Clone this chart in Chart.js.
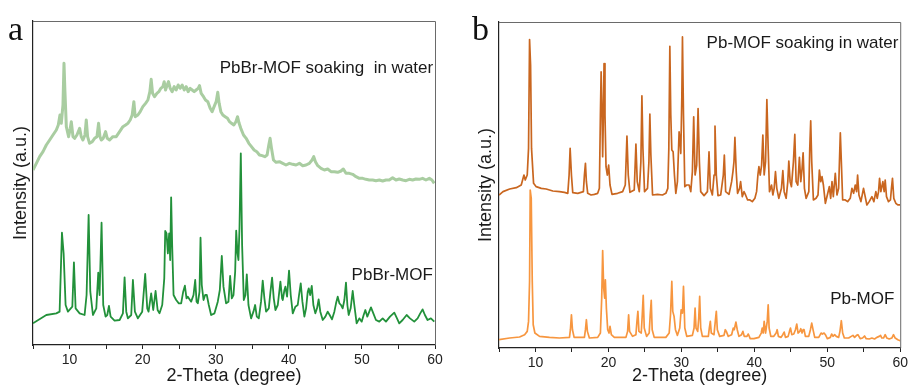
<!DOCTYPE html>
<html>
<head>
<meta charset="utf-8">
<script src="https://cdn.jsdelivr.net/npm/chart.js@4/dist/chart.umd.min.js"></script>
<style>
  html, body { margin: 0; padding: 0; background: #ffffff; }
  #wrap { position: relative; width: 911px; height: 388px; overflow: hidden; }
  canvas { position: absolute; top: 0; }
  #panelA { left: 0; }
  #panelB { left: 460px; }
</style>
</head>
<body>
<div id="wrap">
  <canvas id="panelA" width="455" height="388"></canvas>
  <canvas id="panelB" width="451" height="388"></canvas>
</div>
<script>
// XRD patterns, [2-theta (degree), intensity (a.u.)]
const pbbrWater = [
  [5.0,525],[5.46,545],[5.91,565],[6.37,580],[6.82,600],[7.28,615],[7.73,630],[8.19,645],[8.46,660],[8.69,690],
  [8.87,665],[9.1,720],[9.24,845],[9.37,760],[9.56,655],[9.87,625],[10.1,650],[10.24,670],[10.47,625],[10.69,620],
  [11.01,630],[11.38,650],[11.6,625],[11.83,615],[12.11,630],[12.29,675],[12.47,625],[12.74,605],[13.11,610],[13.43,620],
  [13.75,625],[13.97,665],[14.16,625],[14.34,615],[14.61,620],[14.93,640],[15.16,620],[15.48,615],[15.93,625],[16.39,625],
  [16.85,640],[17.3,655],[17.67,660],[17.98,665],[18.3,675],[18.57,690],[18.8,730],[18.98,685],[19.35,690],[19.67,700],
  [20.03,715],[20.4,725],[20.72,735],[20.99,760],[21.17,797],[21.36,755],[21.63,745],[21.95,755],[22.22,760],[22.49,770],
  [22.77,775],[22.95,790],[23.13,765],[23.36,780],[23.54,790],[23.77,770],[24.04,760],[24.32,775],[24.59,765],[24.86,780],
  [25.14,770],[25.41,780],[25.69,765],[25.96,775],[26.23,760],[26.5,770],[26.78,765],[27.05,760],[27.32,765],[27.6,770],
  [27.78,778],[28.01,755],[28.33,745],[28.6,735],[28.92,730],[29.24,710],[29.51,700],[29.78,715],[30.06,730],[30.28,758],
  [30.47,725],[30.7,700],[30.97,690],[31.29,685],[31.61,680],[31.89,670],[32.16,665],[32.48,660],[32.76,670],[32.98,685],
  [33.2,665],[33.43,650],[33.8,630],[34.16,620],[34.53,605],[34.89,595],[35.25,585],[35.62,580],[35.98,570],[36.35,568],
  [36.71,565],[37.03,570],[37.26,600],[37.44,620],[37.63,590],[37.9,555],[38.26,548],[38.72,550],[39.17,545],[39.62,540],
  [40.08,545],[40.54,542],[40.99,540],[41.45,545],[41.9,538],[42.36,540],[42.81,545],[43.18,555],[43.41,565],[43.64,550],
  [43.96,538],[44.41,530],[44.86,525],[45.32,528],[45.77,520],[46.23,520],[46.69,518],[47.14,522],[47.46,528],[47.82,515],
  [48.28,515],[48.74,512],[49.19,505],[49.65,500],[50.11,500],[50.56,497],[51.01,495],[51.47,495],[51.92,493],[52.38,495],
  [52.84,492],[53.29,495],[53.74,495],[54.2,502],[54.66,495],[55.11,498],[55.57,495],[56.03,493],[56.48,497],[56.94,495],
  [57.39,498],[57.85,497],[58.3,500],[58.76,495],[59.22,500],[59.58,495],[59.9,485]
];

const pbbrMof = [
  [5.0,65],[6.82,90],[8.19,95],[8.64,100],[8.96,337],[9.19,275],[9.46,120],[9.78,100],[10.38,115],[10.6,248],
  [10.83,110],[11.38,95],[12.06,90],[12.33,150],[12.61,390],[12.84,160],[13.2,90],[13.66,110],[13.93,217],[14.11,150],
  [14.38,367],[14.61,120],[14.93,85],[15.16,90],[15.39,117],[15.62,85],[16.16,73],[16.85,75],[17.3,95],[17.53,203],
  [17.76,100],[17.98,80],[18.44,90],[18.67,195],[18.94,100],[19.35,80],[19.94,100],[20.35,213],[20.63,110],[20.81,100],
  [21.17,155],[21.45,105],[21.77,162],[22.05,105],[22.31,95],[22.68,120],[22.96,200],[23.09,342],[23.27,335],[23.45,275],
  [23.63,335],[23.77,255],[23.9,443],[24.04,300],[24.23,150],[24.59,135],[24.95,125],[25.27,125],[25.55,160],[25.78,178],
  [26.0,140],[26.18,145],[26.64,130],[26.96,150],[27.19,195],[27.38,130],[27.55,125],[27.78,160],[27.92,322],[28.09,180],
  [28.33,135],[28.55,150],[28.78,150],[29.05,120],[29.37,90],[29.83,95],[30.28,130],[30.56,165],[30.83,267],[31.06,175],
  [31.42,125],[31.74,130],[31.97,207],[32.2,140],[32.43,150],[32.66,220],[32.8,343],[32.98,275],[33.11,255],[33.25,350],
  [33.43,575],[33.61,300],[33.84,135],[34.07,150],[34.25,212],[34.48,120],[34.84,80],[35.16,100],[35.39,120],[35.62,85],
  [35.89,80],[36.2,130],[36.43,193],[36.66,140],[36.89,100],[37.26,110],[37.49,160],[37.71,202],[37.94,140],[38.17,105],
  [38.49,120],[38.85,190],[39.08,140],[39.17,135],[39.4,165],[39.53,175],[39.76,145],[40.03,223],[40.26,150],[40.54,95],
  [40.9,115],[41.22,120],[41.4,150],[41.63,185],[41.86,130],[42.13,85],[42.36,110],[42.59,160],[42.73,170],[42.92,150],
  [43.14,177],[43.36,120],[43.63,95],[43.86,110],[44.08,137],[44.31,100],[44.64,75],[45.0,85],[45.32,100],[45.59,90],
  [45.91,77],[46.23,100],[46.46,125],[46.69,145],[46.92,125],[47.14,120],[47.37,110],[47.6,135],[47.82,187],[48.01,120],
  [48.19,90],[48.46,110],[48.74,162],[48.96,120],[49.28,65],[49.65,80],[49.97,70],[50.24,90],[50.47,105],[50.74,85],
  [51.01,100],[51.24,113],[51.47,100],[51.92,75],[52.38,70],[52.84,80],[53.29,70],[53.84,85],[54.43,97],[54.8,80],
  [55.11,65],[55.57,75],[56.12,90],[56.58,80],[57.16,70],[57.62,80],[57.98,95],[58.3,107],[58.62,90],[58.98,75],
  [59.44,80],[59.9,70]
];

const pbWater = [
  [5.0,460],[5.55,470],[6.46,478],[7.37,482],[8.05,490],[8.42,520],[8.6,505],[8.87,520],[9.05,600],[9.19,927],
  [9.33,850],[9.46,600],[9.74,495],[10.1,485],[10.79,480],[11.47,478],[12.38,472],[13.29,470],[13.97,468],[14.43,465],
  [14.61,520],[14.75,600],[14.93,520],[15.11,467],[15.8,465],[16.57,470],[16.71,520],[16.85,555],[16.98,500],[17.16,465],
  [17.62,460],[18.08,462],[18.53,465],[18.76,480],[18.9,700],[19.0,830],[19.13,700],[19.21,575],[19.31,700],[19.4,855],
  [19.53,700],[19.67,545],[19.85,520],[20.03,550],[20.22,490],[20.49,462],[21.26,465],[21.95,470],[22.31,490],[22.54,637],
  [22.72,520],[22.95,468],[23.54,475],[23.77,613],[23.95,500],[24.23,470],[24.45,560],[24.59,758],[24.73,600],[24.95,470],
  [25.36,480],[25.55,560],[25.68,703],[25.82,580],[26.05,460],[26.73,462],[27.41,460],[27.87,465],[28.14,480],[28.28,600],
  [28.42,907],[28.55,700],[28.69,595],[28.87,590],[29.05,520],[29.24,465],[29.46,500],[29.69,650],[29.83,620],[29.92,585],
  [30.06,750],[30.15,935],[30.29,700],[30.47,485],[30.74,490],[31.06,490],[31.29,470],[31.51,530],[31.69,695],[31.88,520],
  [32.1,550],[32.29,720],[32.47,560],[32.65,470],[33.11,458],[33.57,470],[33.79,590],[33.97,480],[34.25,460],[34.48,520],
  [34.61,667],[34.79,520],[35.02,458],[35.39,460],[35.75,520],[35.89,580],[36.07,470],[36.53,462],[36.89,500],[37.07,530],
  [37.21,560],[37.34,633],[37.52,530],[37.7,465],[37.98,480],[38.12,500],[38.35,455],[38.58,470],[38.8,460],[39.08,445],
  [39.4,445],[39.72,440],[40.08,450],[40.31,470],[40.49,520],[40.63,545],[40.81,520],[41.0,550],[41.17,640],[41.35,520],
  [41.54,560],[41.72,747],[41.9,600],[42.08,470],[42.36,490],[42.54,460],[42.72,480],[42.9,530],[43.08,480],[43.36,450],
  [43.72,480],[43.91,533],[44.09,470],[44.36,450],[44.59,500],[44.73,562],[44.91,500],[45.09,485],[45.36,560],[45.55,642],
  [45.73,500],[45.96,490],[46.18,573],[46.37,500],[46.55,540],[46.69,587],[46.87,480],[47.1,450],[47.47,470],[47.6,600],
  [47.73,683],[47.87,560],[48.1,445],[48.46,450],[48.73,460],[48.92,535],[49.1,500],[49.28,515],[49.47,490],[49.74,435],
  [50.01,460],[50.28,485],[50.47,450],[50.65,500],[50.83,455],[51.1,525],[51.33,460],[51.56,480],[51.79,647],[51.93,560],
  [52.11,445],[52.47,445],[52.79,440],[53.15,450],[53.38,480],[53.61,465],[53.84,490],[54.02,470],[54.16,520],[54.34,460],
  [54.61,440],[54.97,480],[55.2,455],[55.43,430],[55.75,440],[56.12,455],[56.39,440],[56.66,470],[56.85,450],[57.03,470],
  [57.17,510],[57.35,470],[57.62,500],[57.8,470],[57.94,505],[58.12,455],[58.39,440],[58.66,445],[58.8,480],[58.94,510],
  [59.12,450],[59.4,435],[59.67,430],[59.99,430]
];

const pbMof = [
  [5.0,25],[6.46,30],[7.82,33],[8.51,40],[8.87,50],[9.05,80],[9.19,200],[9.28,475],[9.42,450],[9.56,200],
  [9.69,70],[9.92,45],[10.56,35],[11.92,32],[13.29,30],[14.66,32],[14.79,55],[14.93,100],[15.07,55],[15.3,32],
  [16.71,32],[16.85,55],[16.98,85],[17.12,50],[17.39,30],[18.53,32],[18.9,45],[19.08,150],[19.21,293],[19.35,180],
  [19.49,150],[19.58,205],[19.72,120],[19.9,55],[20.08,45],[20.22,65],[20.4,40],[20.81,32],[22.4,32],[22.63,50],
  [22.77,100],[22.9,50],[23.31,35],[23.77,40],[23.91,80],[24.04,110],[24.18,50],[24.5,45],[24.64,100],[24.77,158],
  [24.91,60],[25.23,35],[25.59,45],[25.73,100],[25.87,143],[26.0,55],[26.28,32],[27.87,32],[28.33,45],[28.51,100],
  [28.69,200],[28.82,110],[29.0,95],[29.19,55],[29.46,38],[29.78,60],[29.97,115],[30.15,105],[30.29,185],[30.47,60],
  [30.74,35],[31.51,38],[31.74,60],[31.88,120],[32.01,60],[32.24,50],[32.38,90],[32.51,155],[32.65,60],[32.88,35],
  [33.7,35],[33.83,60],[33.97,80],[34.1,45],[34.47,40],[34.65,80],[34.79,110],[34.93,55],[35.25,35],[35.84,38],
  [36.02,55],[36.16,50],[36.43,35],[36.89,40],[37.12,60],[37.25,55],[37.48,78],[37.66,55],[37.89,35],[38.25,40],
  [38.44,50],[38.62,35],[38.99,35],[39.17,42],[39.44,28],[39.94,28],[40.63,32],[40.95,45],[41.08,60],[41.22,45],
  [41.35,80],[41.54,45],[41.77,80],[41.9,130],[42.03,60],[42.26,35],[42.67,35],[42.99,45],[43.13,55],[43.3,35],
  [43.67,32],[43.9,40],[44.09,48],[44.27,32],[44.64,35],[44.82,50],[44.96,60],[45.14,40],[45.41,42],[45.64,55],
  [45.82,72],[46.0,45],[46.23,50],[46.37,58],[46.55,45],[46.69,55],[46.82,55],[47.0,35],[47.46,35],[47.69,55],
  [47.87,75],[48.05,55],[48.28,32],[48.83,32],[49.15,45],[49.33,42],[49.56,45],[49.74,40],[50.01,28],[50.42,32],
  [50.6,42],[50.79,35],[51.01,40],[51.24,35],[51.56,32],[51.74,50],[51.93,82],[52.11,45],[52.34,30],[52.93,30],
  [53.29,35],[53.52,38],[53.75,32],[54.02,38],[54.2,40],[54.52,28],[54.84,30],[55.11,36],[55.34,28],[55.75,27],
  [56.12,30],[56.48,27],[56.8,32],[57.12,35],[57.3,38],[57.48,30],[57.71,30],[57.94,40],[58.17,30],[58.49,27],
  [58.85,30],[59.08,40],[59.31,30],[59.67,25],[60.0,22]
];

const xTicks = { min: 5, max: 60, step: 5, labelEvery: 10 };
const panelLetters = ['a', 'b'];
const seriesNames = {
  pbbrWater: 'PbBr-MOF soaking  in water',
  pbbrMof: 'PbBr-MOF',
  pbWater: 'Pb-MOF soaking in water',
  pbMof: 'Pb-MOF'
};

const SANS = '"Liberation Sans", Arial, Helvetica, sans-serif';
const SERIF = '"Liberation Serif", "Times New Roman", serif';

function toPoints(arr) { return arr.map(p => ({ x: p[0], y: p[1] })); }

// panel letter, series captions and the open-top frame
const annotate = {
  id: 'annotate',
  afterDraw(chart, args, opts) {
    const ctx = chart.ctx;
    const a = chart.chartArea;
    const xs = chart.scales.x, ys = chart.scales.y;
    ctx.save();
    // top and right edges of the box
    ctx.strokeStyle = '#6a6a6a';
    ctx.lineWidth = 1;
    ctx.beginPath();
    ctx.moveTo(a.left, a.top + 0.5);
    ctx.lineTo(a.right + 0.5, a.top + 0.5);
    ctx.lineTo(a.right + 0.5, a.bottom);
    ctx.stroke();
    // panel letter
    ctx.fillStyle = '#111';
    ctx.font = '34px ' + SERIF;
    ctx.textAlign = 'left';
    ctx.textBaseline = 'alphabetic';
    ctx.fillText(opts.letter, opts.letterX, opts.letterY);
    // captions
    ctx.font = '17px ' + SANS;
    ctx.textAlign = 'right';
    ctx.textBaseline = 'middle';
    ctx.fillStyle = '#1a1a1a';
    opts.captions.forEach(c => {
      ctx.fillText(c.text, xs.getPixelForValue(c.x), ys.getPixelForValue(c.y));
    });
    ctx.restore();
  }
};

function makePanel(canvasId, sets, yMax, geom, ann) {
  return new Chart(document.getElementById(canvasId), {
    type: 'line',
    data: {
      datasets: sets.map(s => ({
        data: toPoints(s.data),
        borderColor: s.color,
        borderWidth: s.width,
        borderJoinStyle: 'round',
        pointRadius: 0,
        tension: 0,
        fill: false
      }))
    },
    options: {
      responsive: false,
      animation: false,
      devicePixelRatio: 1,
      layout: { padding: { top: geom.top, right: geom.right, left: 0, bottom: 0 } },
      plugins: {
        legend: { display: false },
        tooltip: { enabled: false },
        annotate: ann
      },
      scales: {
        x: {
          type: 'linear',
          min: xTicks.min,
          max: xTicks.max,
          afterFit: s => { s.height = geom.xHeight; },
          ticks: {
            stepSize: xTicks.step,
            autoSkip: false,
            maxRotation: 0,
            padding: 3,
            color: '#222',
            font: { family: SANS, size: 14 },
            callback: v => (v % xTicks.labelEvery === 0 ? String(v) : '')
          },
          grid: { display: true, drawOnChartArea: false, drawTicks: true, tickLength: 4, color: '#222', lineWidth: 1 },
          border: { display: true, color: '#222', width: 1.2 },
          title: {
            display: true,
            text: '2-Theta (degree)',
            color: '#1a1a1a',
            font: { family: SANS, size: 18 },
            padding: { top: 0, bottom: 1 }
          }
        },
        y: {
          type: 'linear',
          min: 0,
          max: yMax,
          afterFit: s => { s.width = geom.yWidth; },
          ticks: { display: false },
          grid: { display: false },
          border: { display: true, color: '#222', width: 1.2 },
          title: {
            display: true,
            text: 'Intensity (a.u.)',
            color: '#1a1a1a',
            font: { family: SANS, size: 18 },
            padding: { top: geom.yTitlePad, bottom: 0 }
          }
        }
      }
    },
    plugins: [annotate]
  });
}

makePanel('panelA',
  [
    { data: pbbrWater, color: '#a9cda1', width: 3 },
    { data: pbbrMof, color: '#22913a', width: 1.8 }
  ],
  972,
  { top: 21, right: 20, xHeight: 43, yWidth: 33, yTitlePad: 10 },
  {
    letter: panelLetters[0], letterX: 8, letterY: 40,
    captions: [
      { text: seriesNames.pbbrWater, x: 59.75, y: 831 },
      { text: seriesNames.pbbrMof, x: 59.7, y: 210 }
    ]
  }
);

makePanel('panelB',
  [
    { data: pbWater, color: '#c9661f', width: 1.7 },
    { data: pbMof, color: '#f7963f', width: 1.7 }
  ],
  980,
  { top: 22, right: 9, xHeight: 40, yWidth: 39, yTitlePad: 15 },
  {
    letter: panelLetters[1], letterX: 12, letterY: 40,
    captions: [
      { text: seriesNames.pbWater, x: 59.75, y: 916 },
      { text: seriesNames.pbMof, x: 59.2, y: 145 }
    ]
  }
);
</script>
</body>
</html>
